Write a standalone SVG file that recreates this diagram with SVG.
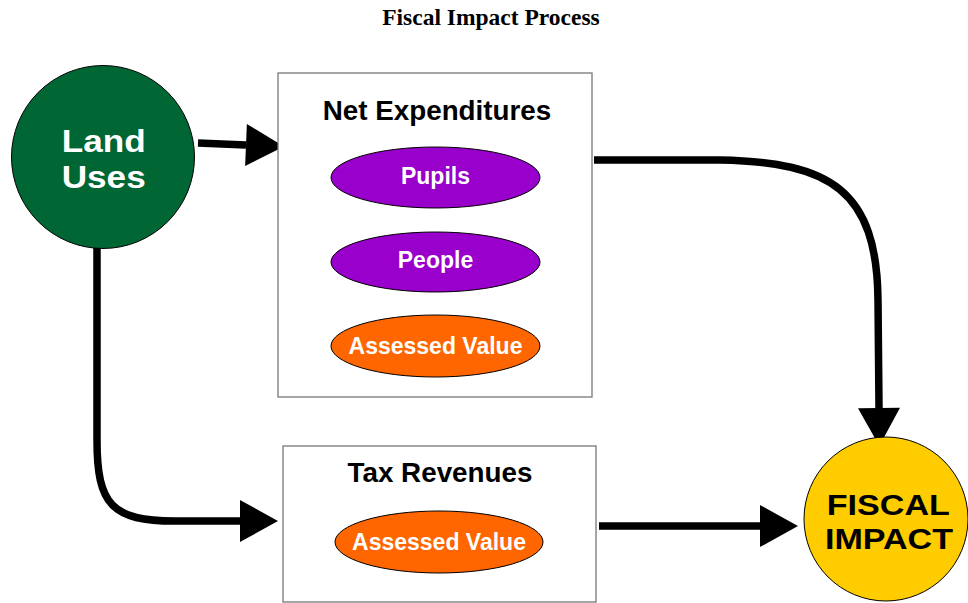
<svg xmlns="http://www.w3.org/2000/svg" width="968" height="603" viewBox="0 0 968 603">
<style>
.title{font-family:"Liberation Serif",serif;font-weight:bold;font-size:23.5px;fill:#000;text-anchor:middle}
.box{fill:#fff;stroke:#777;stroke-width:1.3}
.hdr{font-family:"Liberation Sans",Arial,sans-serif;font-weight:bold;font-size:27.8px;fill:#000;text-anchor:middle}
.lbl{font-family:"Liberation Sans",Arial,sans-serif;font-weight:bold;font-size:23px;fill:#fff;text-anchor:middle}
.big{font-family:"Liberation Sans",Arial,sans-serif;font-weight:bold;font-size:31px;text-anchor:middle}
.ell{stroke:#000;stroke-width:1}
.conn{fill:none;stroke:#000;stroke-width:7.5}
</style>
<defs>
<marker id="ah" markerUnits="userSpaceOnUse" markerWidth="40" markerHeight="44" refX="0" refY="21" orient="auto" overflow="visible">
<path d="M0,0 L38,21 L0,42 Z" fill="#000"/>
</marker>
</defs>
<rect width="968" height="603" fill="#fff"/>
<text class="title" x="491" y="25">Fiscal Impact Process</text>

<g id="connectors">
<path class="conn" d="M198,143 L246,145" marker-end="url(#ah)"/>
<path class="conn" d="M97,248 L97,440 C97,505 112,521 175,521 L240,521" marker-end="url(#ah)"/>
<path class="conn" d="M594,160 L720,160 C830,162 877,190 878,300 L879,408" marker-end="url(#ah)"/>
<path class="conn" d="M599,526 L760,526" marker-end="url(#ah)"/>
</g>

<g id="land-uses">
<circle cx="103" cy="157" r="91.5" fill="#006633" stroke="#000" stroke-width="1"/>
<text class="big" x="103.7" y="152" fill="#fff" textLength="84" lengthAdjust="spacingAndGlyphs">Land</text>
<text class="big" x="103.7" y="188" fill="#fff" textLength="84" lengthAdjust="spacingAndGlyphs">Uses</text>
</g>

<g id="net-expenditures">
<rect class="box" x="278" y="73" width="314" height="324"/>
<text class="hdr" x="437" y="120">Net Expenditures</text>
</g>
<g id="pupils">
<ellipse class="ell" cx="435.5" cy="177.5" rx="104.5" ry="30.5" fill="#9900CC"/>
<text class="lbl" x="435.5" y="184">Pupils</text>
</g>
<g id="people">
<ellipse class="ell" cx="435.5" cy="262" rx="104.5" ry="30" fill="#9900CC"/>
<text class="lbl" x="435.5" y="268">People</text>
</g>
<g id="assessed-value-1">
<ellipse class="ell" cx="435.5" cy="346" rx="104.5" ry="31" fill="#FF6600"/>
<text class="lbl" x="435.5" y="354">Assessed Value</text>
</g>

<g id="tax-revenues">
<rect class="box" x="283" y="446" width="313" height="156"/>
<text class="hdr" x="440" y="482">Tax Revenues</text>
</g>
<g id="assessed-value-2">
<ellipse class="ell" cx="439" cy="542" rx="104" ry="31" fill="#FF6600"/>
<text class="lbl" x="439" y="550">Assessed Value</text>
</g>

<g id="fiscal-impact">
<circle cx="886" cy="519" r="82" fill="#FFCC00" stroke="#000" stroke-width="1"/>
<text class="big" x="888.3" y="515" fill="#000" style="font-size:29px" textLength="123" lengthAdjust="spacingAndGlyphs">FISCAL</text>
<text class="big" x="889" y="549" fill="#000" style="font-size:29px" textLength="128" lengthAdjust="spacingAndGlyphs">IMPACT</text>
</g>
</svg>
